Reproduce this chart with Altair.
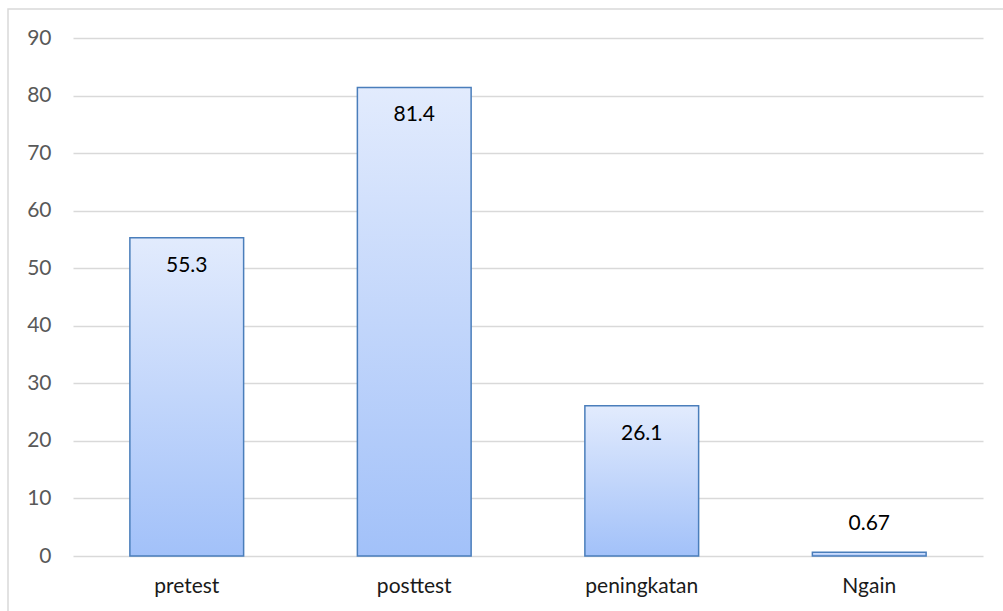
import altair as alt
import pandas as pd

categories = ["pretest", "posttest", "peningkatan", "Ngain"]
values = [55.3, 81.4, 26.1, 0.67]
labels = ["55.3", "81.4", "26.1", "0.67"]

df = pd.DataFrame({"cat": categories, "val": values, "lab": labels})

FONT = "Lato"
FS = 21
grad = alt.Gradient(
    gradient="linear",
    stops=[alt.GradientStop(color="#e2ebfd", offset=0),
           alt.GradientStop(color="#a2c1f9", offset=1)],
    x1=0, x2=0, y1=0, y2=1,
)

x = alt.X("cat:N", sort=categories,
          scale=alt.Scale(paddingInner=0.5, paddingOuter=0.25),
          axis=alt.Axis(title=None, labelAngle=0, ticks=False, domain=False,
                        labelFont=FONT, labelFontSize=FS, labelColor="#1a1a1a",
                        labelPadding=19, labelBaseline="top"))
y = alt.Y("val:Q", scale=alt.Scale(domain=[0, 90], nice=False),
          axis=alt.Axis(title=None, values=list(range(0, 91, 10)), ticks=False,
                        domain=False, labelFont=FONT, labelFontSize=FS,
                        labelColor="#595959", labelPadding=22,
                        gridColor="#d9d9d9", gridWidth=1.3))

bars = alt.Chart(df).mark_bar(color=grad, stroke="#4a7ebb", strokeWidth=1.5).encode(x=x, y=y)

big = alt.Chart(df).transform_filter("datum.val >= 5").mark_text(
    dy=28, font=FONT, fontSize=FS, color="#000000", baseline="middle"
).encode(x=alt.X("cat:N", sort=categories), y="val:Q", text="lab:N")

small = alt.Chart(df).transform_filter("datum.val < 5").mark_text(
    dy=-28, font=FONT, fontSize=FS, color="#000000", baseline="middle"
).encode(x=alt.X("cat:N", sort=categories), y="val:Q", text="lab:N")

frame = alt.Chart(df.head(1)).mark_rect(
    fill=None, fillOpacity=0, stroke="#d9d9d9", strokeWidth=1.5, clip=False
).encode(x=alt.value(-65), x2=alt.value(1200), y=alt.value(-29), y2=alt.value(800))

chart = alt.layer(bars, big, small, frame).properties(
    width=910, height=518,
    autosize=alt.AutoSizeParams(type="none"),
    padding={"left": 73, "top": 38, "right": 20, "bottom": 55},
).configure(background="white").configure_view(stroke=None)

chart.save("out.html", embed_options={"renderer": "svg", "actions": False})
